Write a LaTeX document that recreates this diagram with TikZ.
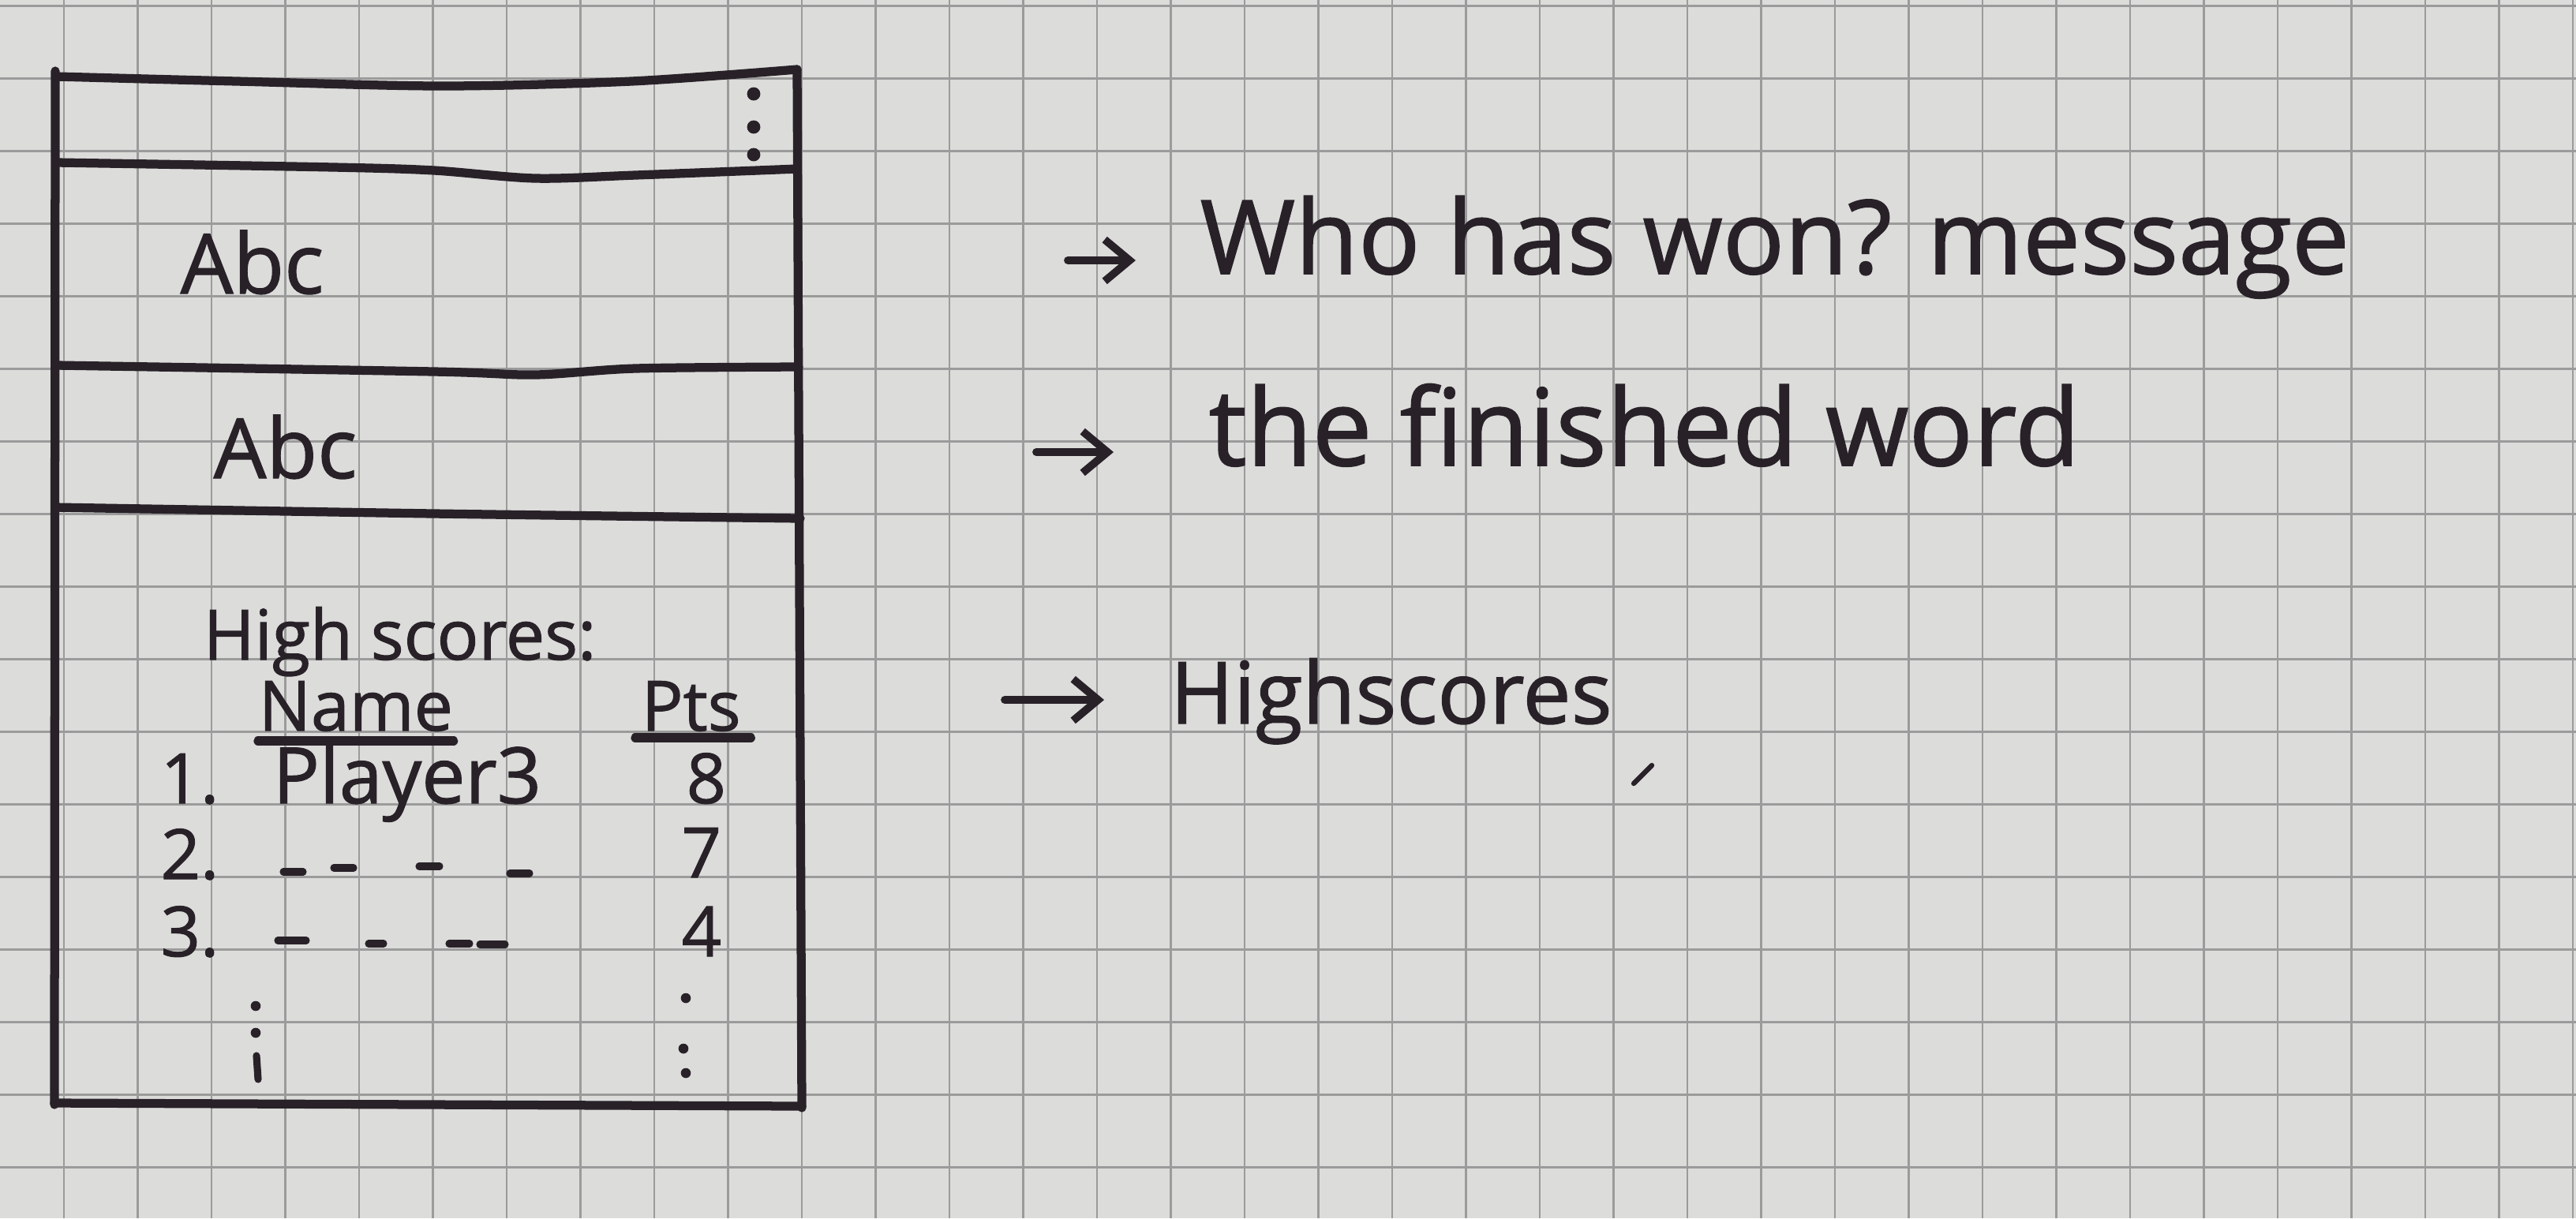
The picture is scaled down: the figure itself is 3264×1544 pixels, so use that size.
\documentclass[tikz,border=0pt]{standalone}
\usepackage{fontspec}
\setmainfont{Open Sans}
\newfontfamily\penfont{Open Sans}[FakeBold=1.2]
\usetikzlibrary{arrows.meta}
\definecolor{paper}{RGB}{220,220,218}
\definecolor{gridline}{RGB}{155,155,155}
\definecolor{ink}{RGB}{40,34,40}
\begin{document}
\begin{tikzpicture}[x=0.01cm,y=-0.01cm,
  pen/.style={draw=ink,line width=3.2pt,line cap=round,line join=round},
  tick/.style={draw=ink,line width=2.6pt,line cap=round},
  txt/.style={text=ink,inner sep=0pt,anchor=base west,font=\penfont\fontsize{30}{36}\selectfont},
  row/.style={txt,font=\penfont\fontsize{25}{30}\selectfont},
  note/.style={text=ink,inner sep=0pt,anchor=base west,font=\penfont\fontsize{37}{44}\selectfont},
  arr/.style={draw=ink,line width=2.8pt,line cap=round,
    -{Straight Barb[length=9pt,width=15pt,line width=2.8pt]}},
  bigdot/.style={circle,fill=ink,inner sep=0pt,minimum size=4.8pt},
  smalldot/.style={circle,fill=ink,inner sep=0pt,minimum size=3.6pt}]

% squared paper
\fill[paper] (0,0) rectangle (3264,1544);
\useasboundingbox (0,0) rectangle (3264,1544);
\foreach \k in {1,...,35}
  \draw[gridline,line width=0.6pt] ({-12.5+93.5*\k},0) -- ++(0,1544);
\foreach \k in {0,...,16}
  \draw[gridline,line width=0.6pt] (0,{7.5+92*\k}) -- ++(3264,0);

% screen outline
\draw[pen] plot[smooth] coordinates {(72,97) (300,103) (560,109) (800,103) (1010,88)};
\draw[pen] (70,90) -- (69,1400);
\draw[pen] (1010,88) -- (1016,1404);
\draw[pen] (69,1398) -- (1016,1402);

% section dividers
\draw[pen] plot[smooth] coordinates {(72,206) (423,212) (550,216) (678,226) (805,222) (1010,214)};
\draw[pen] plot[smooth] coordinates {(72,463) (550,471) (678,475) (805,467) (1012,465)};
\draw[pen] plot[smooth] coordinates {(70,643) (550,651) (1014,657)};

% overflow menu
\node[bigdot] (m1) at (955,119) {};
\node[bigdot] (m2) at (955,161) {};
\node[bigdot] (m3) at (955,196) {};

% message and word fields
\node[txt] (abc1) at (228,372) {Abc};
\node[txt] (abc2) at (270,606) {Abc};

% high score table
\node[row] (hs) at (257,836) {High scores:};
\node[row] (name) at (327,926) {Name};
\draw[pen] ([yshift=-0.13cm]name.base west) -- ([yshift=-0.13cm]name.base east);
\node[row] (pts) at (812,926) {Pts};
\draw[pen] ([xshift=-0.07cm,yshift=-0.09cm]pts.base west) -- ([xshift=0.12cm,yshift=-0.09cm]pts.base east);

\node[row] (r1n) at (203,1018) {1.};
\node[row,font=\penfont\fontsize{28}{33}\selectfont] (r1p) at (345,1018) {Player3};
\node[row] (r1s) at (869,1018) {8};

\node[row] (r2n) at (203,1114) {2.};
\node[row] (r2s) at (863,1112) {7};
\foreach \a/\b/\y in {359/384/1105, 423/448/1100, 531/557/1098, 646/671/1107}
  \draw[tick] (\a,\y) -- (\b,\y);

\node[row] (r3n) at (203,1212) {3.};
\node[row] (r3s) at (863,1212) {4};
\foreach \a/\b/\y in {352/388/1192, 467/486/1196, 569/595/1196, 608/640/1197}
  \draw[tick] (\a,\y) -- (\b,\y);

% continuation marks
\node[smalldot] (l1) at (324,1275) {};
\node[smalldot] (l2) at (324,1309) {};
\draw[tick] (325,1338) -- (327,1368);
\node[smalldot] (p1) at (869,1265) {};
\node[smalldot] (p2) at (866,1329) {};
\node[smalldot] (p3) at (869,1360) {};

% annotations
\node[note] (msg) at (1520,347) {Who has won? message};
\node[note,font=\penfont\fontsize{38.5}{46}\selectfont] (word) at (1531,590) {the finished word};
\node[note,font=\penfont\fontsize{31}{37}\selectfont] (hsn) at (1482,917) {Highscores};

\coordinate (a1s) at (1353,330);
\coordinate (a1e) at (1439,330);
\coordinate (a2s) at (1313,573);
\coordinate (a2e) at (1411,573);
\coordinate (a3s) at (1273,887);
\coordinate (a3e) at (1399,887);
\draw[arr] (a1s) -- (a1e);
\draw[arr] (a2s) -- (a2e);
\draw[arr] (a3s) -- (a3e);

% stray pen mark
\draw[tick,line width=1.8pt] (2070,993) -- (2093,970);
\end{tikzpicture}
\end{document}
